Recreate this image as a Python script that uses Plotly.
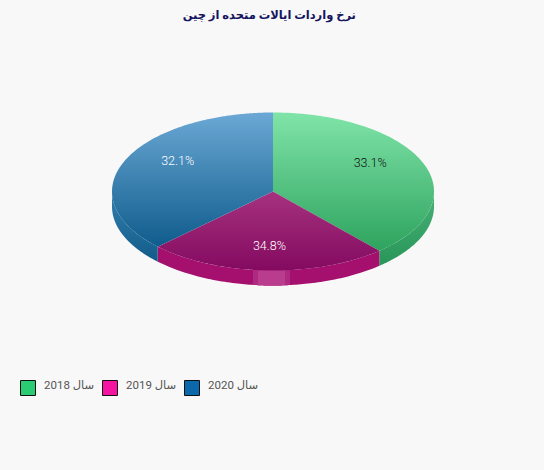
import numpy as np
import plotly.graph_objects as go

# values
years = ["سال 2018", "سال 2019", "سال 2020"]
shares = [33.1, 34.8, 32.1]
swatch_colors = ["#2acb72", "#f514a2", "#0b68aa"]
top_light = ["#80e4a9", "#a6327f", "#6ba8d5"]
top_dark = ["#2ea35e", "#840a60", "#0f5c8c"]
wall_light = ["#46b277", "#a5106f", "#3380ad"]
wall_dark = ["#2a9558", "#a5106f", "#125b8a"]
label_colors = ["#111111", "#ffffff", "#ffffff"]

title = "نرخ واردات ایالات متحده از چین"
font = "Roboto, 'Noto Sans', 'DejaVu Sans', sans-serif"

# pie geometry in page pixels
cx, cy = 273, 191.5
rx, ry = 161, 79
depth = 15
legend_x = [28, 110, 192]
legend_text_x = [42, 124, 206]
legend_y = 388


def rim(theta):
    # the slices keep their true angle on screen, so the rim is cut by the ellipse
    t = 1 / np.sqrt((np.sin(theta) / rx) ** 2 + (np.cos(theta) / ry) ** 2)
    return cx + t * np.sin(theta), cy - t * np.cos(theta)


def ellipse_y(x):
    return cy + ry * np.sqrt(1 - ((x - cx) / rx) ** 2)


fig = go.Figure()
ends = np.cumsum(shares) / sum(shares) * 2 * np.pi
starts = np.r_[0, ends[:-1]]

# side walls first, only the front half of the rim shows one
for a, b, light, dark in zip(starts, ends, wall_light, wall_dark):
    lo, hi = max(a, np.pi / 2), min(b, 3 * np.pi / 2)
    if hi <= lo:
        continue
    x, y = rim(np.linspace(lo, hi, 80))
    fig.add_trace(go.Scatter(
        x=np.r_[x, x[::-1]], y=np.r_[y, y[::-1] + depth],
        fill="toself", mode="none",
        fillgradient=dict(type="vertical", colorscale=[[0, dark], [1, light]]),
    ))

# the lighter stripe on the front wall
for x0, x1, color in [(253, 290, "#ad2a80"), (258, 285, "#ba3c8e")]:
    x = np.linspace(x0, x1, 30)
    y = ellipse_y(x)
    fig.add_trace(go.Scatter(
        x=np.r_[x, x[::-1]], y=np.r_[y, y[::-1] + depth],
        fill="toself", fillcolor=color, mode="none",
    ))

# top faces, the scale runs bottom to top on the page
for a, b, light, dark in zip(starts, ends, top_light, top_dark):
    x, y = rim(np.linspace(a, b, 160))
    fig.add_trace(go.Scatter(
        x=np.r_[cx, x, cx], y=np.r_[cy, y, cy],
        fill="toself", mode="none",
        fillgradient=dict(type="vertical", colorscale=[[0, dark], [1, light]]),
    ))

# percent labels sit on a smaller ellipse at each slice's middle
mids = (starts + ends) / 2
fig.add_trace(go.Scatter(
    x=cx + 0.7 * rx * np.sin(mids), y=cy - 0.7 * ry * np.cos(mids),
    mode="text", text=[f"{s}%" for s in shares],
    textposition="middle center",
    textfont=dict(family=font, size=12.5, color=label_colors, weight=300),
))

# legend drawn by hand, the swatches have a black frame
fig.add_trace(go.Scatter(
    x=legend_x, y=[legend_y] * 3, mode="markers",
    marker=dict(symbol="square", size=15, color=swatch_colors, line=dict(color="#111111", width=1)),
))
for x, name in zip(legend_text_x, years):
    fig.add_annotation(
        x=x, y=legend_y - 3, text=name, showarrow=False, xanchor="left",
        font=dict(family=font, size=11.5, color="#555555"),
    )

fig.update_layout(
    width=544, height=470,
    margin=dict(l=0, r=0, t=0, b=0),
    paper_bgcolor="#f8f8f8", plot_bgcolor="#f8f8f8",
    showlegend=False, hovermode=False,
    title=dict(
        text="<b>" + title + "</b>", x=0.495, xanchor="center", y=0.968, yanchor="middle",
        font=dict(family=font, size=11.5, color="#14145f"),
    ),
    xaxis=dict(range=[0, 544], visible=False, fixedrange=True),
    yaxis=dict(range=[470, 0], visible=False, fixedrange=True),
)

fig.write_html("out.html", config=dict(displayModeBar=False), post_script="document.body.style.margin='0';")
